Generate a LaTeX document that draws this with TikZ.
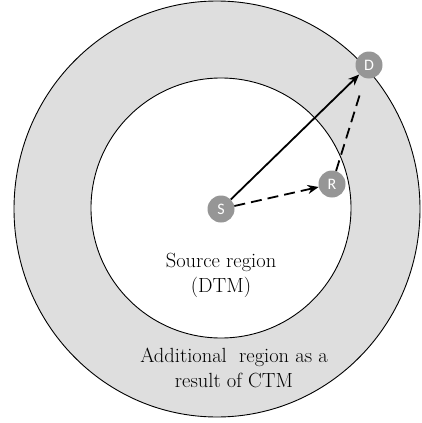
\documentclass[tikz,border=0pt]{standalone}
\usepackage{fontspec}
\newfontfamily\stationfont{Carlito}
\usetikzlibrary{arrows.meta}
\definecolor{ringgray}{RGB}{222,222,222}
\definecolor{nodegray}{RGB}{150,150,150}
\begin{document}
\begin{tikzpicture}[x=1pt,y=-1pt,
	station/.style={circle,fill=nodegray,text=white,minimum size=27pt,inner sep=0pt,font=\stationfont\fontsize{16}{16}\selectfont},
	regiontext/.style={align=center,font=\rmfamily\fontsize{20.5}{25}\selectfont},
	link/.style={line width=1.8pt,-{Stealth[length=11pt,width=9pt]}}]

	\useasboundingbox (0,0) rectangle (421,423);

	% The regions
	\draw[fill=ringgray,line width=0.9pt] (217,209) ellipse [x radius=203,y radius=208];
	\draw[fill=white,line width=0.9pt] (221,208) circle [radius=130];

	% Stations
	\node[station] (S) at (221,209) {S};
	\node[station] (R) at (332,184) {R};
	\node[station] (D) at (369,65) {D};

	% Links
	\draw[link] (S) -- (D);
	\draw[link,dash pattern=on 11pt off 6pt] (S) -- (R);
	\draw[line width=1.8pt,dash pattern=on 11pt off 6pt,shorten >=14pt] (R) -- (D);

	% Texts
	\node[regiontext] (src) at (221,275) {Source region\\(DTM)};
	\node[regiontext] (add) at (234,368) {Additional\ \ region as a\\result of CTM};

\end{tikzpicture}
\end{document}
